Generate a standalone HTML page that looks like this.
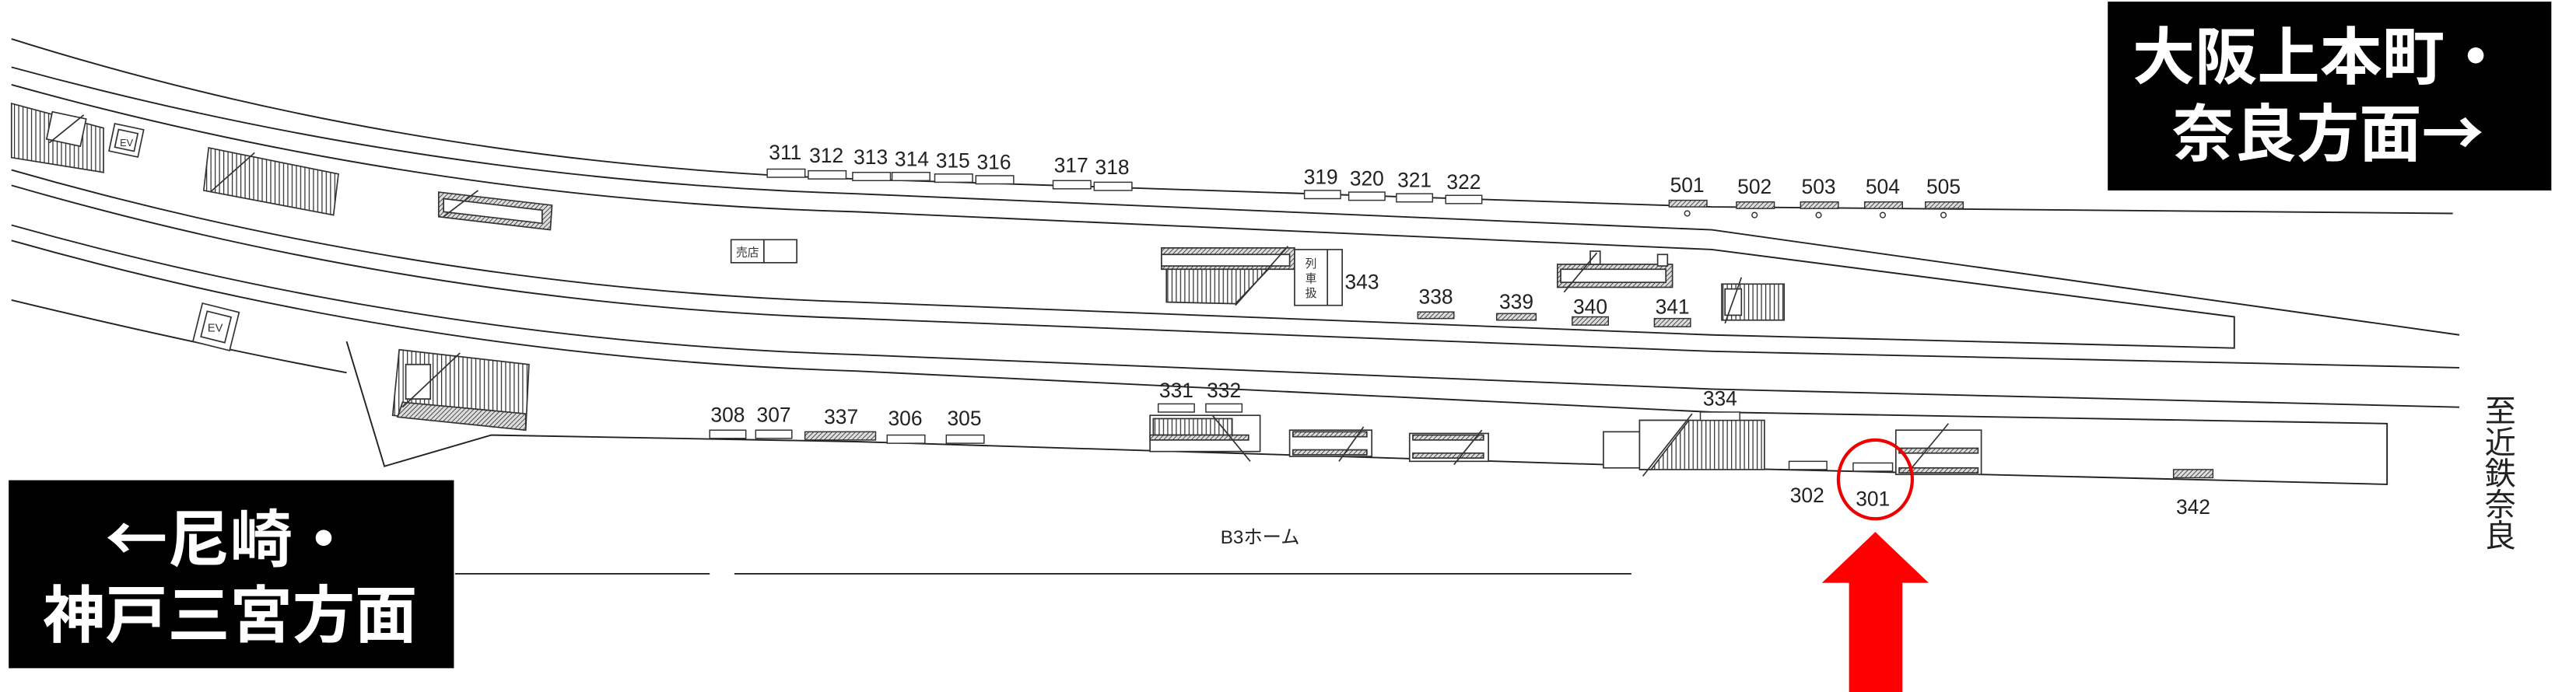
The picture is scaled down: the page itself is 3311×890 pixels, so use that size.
<!DOCTYPE html>
<html><head><meta charset="utf-8"><style>
html,body{margin:0;padding:0;background:#fff;}
svg{display:block;}
.n{font-family:"Liberation Sans",sans-serif;font-size:12.5px;fill:#222;text-anchor:middle;}
.j{font-family:"Liberation Sans","Noto Sans CJK JP",sans-serif;}
.b{font-family:"Noto Sans CJK JP",sans-serif;}
</style></head><body>
<svg width="3311" height="890" viewBox="0 0 1568 421.5" preserveAspectRatio="none" xmlns="http://www.w3.org/2000/svg">
<defs>
<pattern id="vh" width="2.6" height="10" patternUnits="userSpaceOnUse"><rect width="2.6" height="10" fill="#fff"/><line x1="1" y1="0" x2="1" y2="10" stroke="#333" stroke-width="0.6"/></pattern>
<pattern id="dh" width="2" height="2" patternUnits="userSpaceOnUse" patternTransform="rotate(45)"><rect width="2" height="2" fill="#ddd"/><line x1="0" y1="0" x2="0" y2="2" stroke="#333" stroke-width="0.8"/></pattern>
</defs>
<g fill="none" stroke="#222" stroke-width="0.9">
<path d="M7,23.7 Q250,100 521,109 L1042,126 L1493,130"/>
<path d="M7,40.9 Q260,110 521,118 L1042,140 L1497,204"/>
<path d="M7,51.6 Q260,122 521,129 L1042,152 L1360,193 L1360,212 L1042,204 L521,184 Q260,176 7,103.5"/>
<path d="M7,112.9 Q260,186 521,194 L1042,214 L1497,224"/>
<path d="M7,137.1 Q260,208 521,216 L1042,237 L1497,248"/>
<path d="M7,146.5 Q260,218 521,226 L1042,251 L1453,258 L1453,295 L1042,285 L521,269 L299,265 L234,284 L211,208"/>
<path d="M7,182.8 Q120,210 211,227"/>
<line x1="277" y1="349.5" x2="432" y2="349.5"/>
<line x1="447" y1="349.5" x2="993" y2="349.5"/>
</g>
<g stroke="#333" stroke-width="0.8">
<polygon points="7,63 63,78 63,105 7,96" fill="url(#vh)"/>
<rect x="30" y="70" width="21" height="17" fill="#fff" transform="rotate(12 40 78)"/>
<line x1="30" y1="87" x2="51" y2="70"/>
<rect x="68" y="77" width="18" height="17" fill="#fff" transform="rotate(12 77 85)"/>
<rect x="71" y="80" width="12" height="11" fill="none" transform="rotate(12 77 85)"/>
<text x="77" y="89" font-size="6" text-anchor="middle" font-family="Liberation Sans" fill="#333" stroke="none">EV</text>
<polygon points="127,90 206,106 203,131 124,116" fill="url(#vh)"/>
<line x1="128" y1="117" x2="155" y2="93"/>
<polygon points="267,117 336,125 335,140 267,132" fill="url(#dh)"/>
<polygon points="270,121 330,128 330,136 270,129" fill="#fff"/>
<line x1="270" y1="132" x2="291" y2="116"/>
<rect x="445" y="146" width="20" height="14" fill="#fff"/><rect x="465" y="146" width="20" height="14" fill="#fff"/>
<text x="455" y="156" font-size="7" class="j" text-anchor="middle" fill="#333" stroke="none">売店</text>
<rect x="120" y="187" width="23" height="24" fill="#fff" transform="rotate(14 131 199)"/>
<rect x="124" y="191" width="15" height="16" fill="none" transform="rotate(14 131 199)"/>
<text x="131" y="202" font-size="7" text-anchor="middle" font-family="Liberation Sans" fill="#333" stroke="none">EV</text>
<polygon points="243,213 322,222 320,262 239,253" fill="url(#vh)"/>
<polygon points="245,245 320,252 320,262 242,254" fill="url(#dh)"/>
<polygon points="247,222 262,222 262,243 247,243" fill="#fff"/>
<line x1="245" y1="248" x2="280" y2="215"/>
<rect x="707" y="151" width="81" height="13" fill="url(#dh)"/>
<rect x="707" y="155" width="78" height="7" fill="#fff"/>
<polygon points="710,164 772,164 752,185 710,184" fill="url(#vh)"/>
<line x1="752" y1="186" x2="784" y2="150"/>
<rect x="788" y="152" width="29" height="34" fill="#fff"/>
<line x1="808" y1="152" x2="808" y2="186"/>
<text x="798" y="163" font-size="7" class="j" text-anchor="middle" fill="#333" stroke="none">列</text>
<text x="798" y="172" font-size="7" class="j" text-anchor="middle" fill="#333" stroke="none">車</text>
<text x="798" y="181" font-size="7" class="j" text-anchor="middle" fill="#333" stroke="none">扱</text>
<rect x="948" y="161" width="70" height="14" fill="url(#dh)"/>
<rect x="950" y="164" width="64" height="8" fill="#fff"/>
<rect x="968" y="153" width="6" height="8" fill="#fff"/><rect x="1009" y="155" width="6" height="7" fill="#fff"/>
<line x1="952" y1="178" x2="972" y2="154"/>
<rect x="1048" y="173" width="38" height="22" fill="url(#vh)"/>
<rect x="1050" y="176" width="10" height="16" fill="#fff"/>
<line x1="1050" y1="197" x2="1060" y2="169"/>
<rect x="700" y="253" width="67" height="22" fill="#fff"/>
<rect x="702" y="255" width="48" height="10" fill="url(#vh)"/>
<rect x="700" y="265" width="60" height="3" fill="url(#dh)"/>
<line x1="738" y1="253" x2="761" y2="281"/>
<rect x="785" y="262" width="50" height="16" fill="#fff"/>
<rect x="787" y="263" width="45" height="3" fill="url(#dh)"/><rect x="787" y="274" width="45" height="3" fill="url(#dh)"/>
<line x1="815" y1="281" x2="830" y2="260"/>
<rect x="858" y="264" width="48" height="17" fill="#fff"/>
<rect x="860" y="265" width="43" height="3" fill="url(#dh)"/><rect x="860" y="276" width="43" height="3" fill="url(#dh)"/>
<line x1="885" y1="283" x2="902" y2="262"/>
<rect x="976" y="263" width="22" height="22" fill="#fff"/>
<rect x="998" y="256" width="76" height="30" fill="url(#vh)"/>
<polygon points="998,256 1028,256 1005,286 998,286" fill="#fff"/>
<line x1="1000" y1="290" x2="1030" y2="252"/>
<rect x="1154" y="262" width="52" height="27" fill="#fff"/>
<rect x="1156" y="273" width="48" height="3" fill="url(#dh)"/><rect x="1156" y="285" width="48" height="3" fill="url(#dh)"/>
<line x1="1162" y1="287" x2="1186" y2="258"/>
</g>
<g stroke="#333" stroke-width="0.7" fill="#fff">
<rect x="467" y="103" width="23" height="5"/><rect x="492" y="104" width="23" height="5"/>
<rect x="519" y="105" width="23" height="5"/><rect x="543" y="105" width="23" height="5"/>
<rect x="569" y="106" width="23" height="5"/><rect x="594" y="107" width="23" height="5"/>
<rect x="641" y="110" width="23" height="5"/><rect x="666" y="111" width="23" height="5"/>
<rect x="794" y="116" width="22" height="5"/><rect x="821" y="117" width="22" height="5"/>
<rect x="850" y="118" width="22" height="5"/><rect x="880" y="119" width="22" height="5"/>
<rect x="1016" y="122" width="23" height="4" fill="url(#dh)"/><rect x="1057" y="123" width="23" height="4" fill="url(#dh)"/>
<rect x="1096" y="123" width="23" height="4" fill="url(#dh)"/><rect x="1135" y="123" width="23" height="4" fill="url(#dh)"/>
<rect x="1172" y="123" width="23" height="4" fill="url(#dh)"/>
<circle cx="1027" cy="130" r="1.6"/><circle cx="1068" cy="131" r="1.6"/><circle cx="1107" cy="131" r="1.6"/><circle cx="1146" cy="131" r="1.6"/><circle cx="1183" cy="131" r="1.6"/>
<rect x="863" y="190" width="22" height="4" fill="url(#dh)"/><rect x="911" y="191" width="24" height="4" fill="url(#dh)"/>
<rect x="957" y="193" width="22" height="5" fill="url(#dh)"/><rect x="1007" y="194" width="22" height="5" fill="url(#dh)"/>
<rect x="432" y="262" width="22" height="5"/><rect x="460" y="262" width="22" height="5"/>
<rect x="490" y="263" width="43" height="5" fill="url(#dh)"/>
<rect x="540" y="265" width="23" height="5"/><rect x="576" y="265" width="23" height="5"/>
<rect x="705" y="246" width="22" height="5"/><rect x="734" y="246" width="22" height="5"/>
<rect x="1035" y="251" width="24" height="5"/>
<rect x="1089" y="281" width="23" height="5"/><rect x="1128" y="282" width="24" height="5"/>
<rect x="1323" y="286" width="24" height="5" fill="url(#dh)"/>
</g>
<g class="n">
<text x="478" y="97">311</text><text x="503" y="99">312</text><text x="530" y="100">313</text><text x="555" y="101">314</text>
<text x="580" y="102">315</text><text x="605" y="103">316</text><text x="652" y="105">317</text><text x="677" y="106">318</text>
<text x="804" y="112">319</text><text x="832" y="113">320</text><text x="861" y="114">321</text><text x="891" y="115">322</text>
<text x="1027" y="117">501</text><text x="1068" y="118">502</text><text x="1107" y="118">503</text><text x="1146" y="118">504</text><text x="1183" y="118">505</text>
<text x="829" y="176">343</text><text x="874" y="185">338</text><text x="923" y="188">339</text><text x="968" y="191">340</text><text x="1018" y="191">341</text>
<text x="443" y="257">308</text><text x="471" y="257">307</text><text x="512" y="258">337</text><text x="551" y="259">306</text><text x="587" y="259">305</text>
<text x="716" y="242">331</text><text x="745" y="242">332</text><text x="1047" y="247">334</text>
<text x="1100" y="306">302</text><text x="1140" y="308">301</text><text x="1335" y="313">342</text>
<text x="767" y="331" class="j" style="font-size:11.5px">B3ホーム</text>
</g>
<g class="j" fill="#222" font-size="19" text-anchor="middle">
<text x="1522" y="257">至</text><text x="1522" y="276">近</text><text x="1522" y="295">鉄</text><text x="1522" y="314">奈</text><text x="1522" y="333">良</text>
</g>
<rect x="5.3" y="292.5" width="271" height="114.5" fill="#000"/>
<text x="140" y="342" class="b" font-size="38" font-weight="bold" fill="#fff" text-anchor="middle">←尼崎・</text>
<text x="140" y="388" class="b" font-size="38" font-weight="bold" fill="#fff" text-anchor="middle">神戸三宮方面</text>
<rect x="1283" y="1" width="270" height="115" fill="#000"/>
<text x="1412" y="48" class="b" font-size="38" font-weight="bold" fill="#fff" text-anchor="middle">大阪上本町・</text>
<text x="1417" y="95" class="b" font-size="38" font-weight="bold" fill="#fff" text-anchor="middle">奈良方面→</text>
<ellipse cx="1141.5" cy="292" rx="22.5" ry="24" fill="none" stroke="#e00" stroke-width="2"/>
<polygon points="1141.5,324 1174,355 1158,355 1158,421.5 1125.5,421.5 1125.5,355 1109,355" fill="#f00"/>
</svg>
</body></html>
